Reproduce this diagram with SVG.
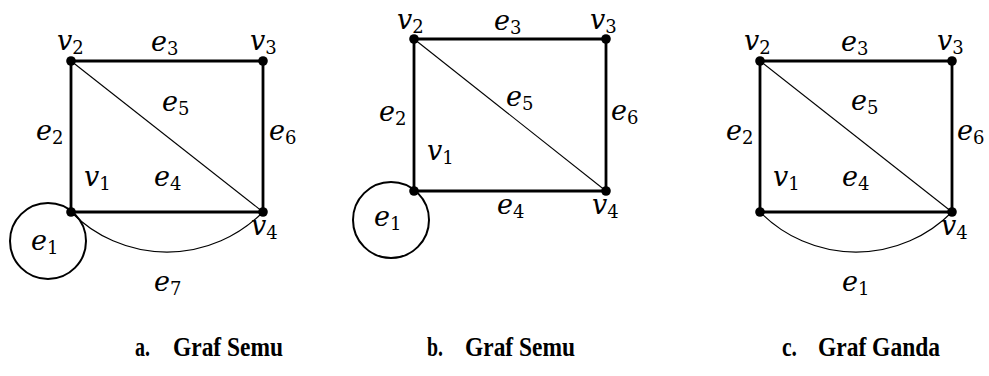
<svg xmlns="http://www.w3.org/2000/svg" width="989" height="376" viewBox="0 0 989 376">
<style>
.bg{fill:#fff}
.thick{stroke:#000;stroke-width:2.8;fill:none;stroke-linecap:round}
.thin{stroke:#000;stroke-width:1.1;fill:none}
.loop{stroke:#000;stroke-width:2;fill:none}
.dot{fill:#000}
.lbl{font-family:"DejaVu Serif",serif;font-style:italic;font-size:27px;fill:#000}
.sub{font-style:normal;font-size:18px}
.cap{font-family:"Liberation Serif","Times New Roman",serif;font-weight:bold;font-size:27px;fill:#000}
</style>
<rect class="bg" width="989" height="376"/>
<g id="connectors">
  <!-- graph a -->
  <path class="thick" d="M71 61 H263 V212 H71 Z"/>
  <line class="thin" x1="71" y1="61" x2="263" y2="212"/>
  <path class="thin" d="M71 212 A135 135 0 0 0 263 212"/>
  <circle class="loop" cx="48" cy="241" r="38"/>
  <!-- graph b -->
  <path class="thick" d="M414 39 H606 V191 H414 Z"/>
  <line class="thin" x1="414" y1="39" x2="606" y2="191"/>
  <circle class="loop" cx="391" cy="220" r="38"/>
  <!-- graph c -->
  <path class="thick" d="M760 61 H952 V212 H760 Z"/>
  <line class="thin" x1="760" y1="61" x2="952" y2="212"/>
  <path class="thin" d="M760 212 A135 135 0 0 0 952 212"/>
</g>
<g id="graph-a">
  <g id="a-v1"><circle class="dot" cx="71" cy="212" r="4.8"/><text class="lbl" x="84" y="186">v<tspan class="sub" dy="4">1</tspan></text></g>
  <g id="a-v2"><circle class="dot" cx="71" cy="61" r="4.8"/><text class="lbl" x="57" y="50">v<tspan class="sub" dy="4">2</tspan></text></g>
  <g id="a-v3"><circle class="dot" cx="263" cy="61" r="4.8"/><text class="lbl" x="250" y="50">v<tspan class="sub" dy="4">3</tspan></text></g>
  <g id="a-v4"><circle class="dot" cx="263" cy="212" r="4.8"/><text class="lbl" x="251" y="235">v<tspan class="sub" dy="4">4</tspan></text></g>
  <text class="lbl" x="31" y="250">e<tspan class="sub" dy="4">1</tspan></text>
  <text class="lbl" x="36" y="140">e<tspan class="sub" dy="4">2</tspan></text>
  <text class="lbl" x="151" y="51">e<tspan class="sub" dy="4">3</tspan></text>
  <text class="lbl" x="154" y="186">e<tspan class="sub" dy="4">4</tspan></text>
  <text class="lbl" x="162" y="111">e<tspan class="sub" dy="4">5</tspan></text>
  <text class="lbl" x="269" y="140">e<tspan class="sub" dy="4">6</tspan></text>
  <text class="lbl" x="154" y="291">e<tspan class="sub" dy="4">7</tspan></text>
</g>
<g id="graph-b">
  <g id="b-v1"><circle class="dot" cx="414" cy="191" r="4.8"/><text class="lbl" x="427" y="160">v<tspan class="sub" dy="4">1</tspan></text></g>
  <g id="b-v2"><circle class="dot" cx="414" cy="39" r="4.8"/><text class="lbl" x="397" y="29">v<tspan class="sub" dy="4">2</tspan></text></g>
  <g id="b-v3"><circle class="dot" cx="606" cy="39" r="4.8"/><text class="lbl" x="590" y="29">v<tspan class="sub" dy="4">3</tspan></text></g>
  <g id="b-v4"><circle class="dot" cx="606" cy="191" r="4.8"/><text class="lbl" x="592" y="214">v<tspan class="sub" dy="4">4</tspan></text></g>
  <text class="lbl" x="374" y="226">e<tspan class="sub" dy="4">1</tspan></text>
  <text class="lbl" x="379" y="121">e<tspan class="sub" dy="4">2</tspan></text>
  <text class="lbl" x="494" y="30">e<tspan class="sub" dy="4">3</tspan></text>
  <text class="lbl" x="497" y="214">e<tspan class="sub" dy="4">4</tspan></text>
  <text class="lbl" x="506" y="106">e<tspan class="sub" dy="4">5</tspan></text>
  <text class="lbl" x="611" y="120">e<tspan class="sub" dy="4">6</tspan></text>
</g>
<g id="graph-c">
  <g id="c-v1"><circle class="dot" cx="760" cy="212" r="4.8"/><text class="lbl" x="773" y="186">v<tspan class="sub" dy="4">1</tspan></text></g>
  <g id="c-v2"><circle class="dot" cx="760" cy="61" r="4.8"/><text class="lbl" x="744" y="50">v<tspan class="sub" dy="4">2</tspan></text></g>
  <g id="c-v3"><circle class="dot" cx="952" cy="61" r="4.8"/><text class="lbl" x="937" y="50">v<tspan class="sub" dy="4">3</tspan></text></g>
  <g id="c-v4"><circle class="dot" cx="952" cy="212" r="4.8"/><text class="lbl" x="941" y="235">v<tspan class="sub" dy="4">4</tspan></text></g>
  <text class="lbl" x="842" y="291">e<tspan class="sub" dy="4">1</tspan></text>
  <text class="lbl" x="726" y="140">e<tspan class="sub" dy="4">2</tspan></text>
  <text class="lbl" x="841" y="51">e<tspan class="sub" dy="4">3</tspan></text>
  <text class="lbl" x="842" y="186">e<tspan class="sub" dy="4">4</tspan></text>
  <text class="lbl" x="851" y="110">e<tspan class="sub" dy="4">5</tspan></text>
  <text class="lbl" x="957" y="140">e<tspan class="sub" dy="4">6</tspan></text>
</g>
<g id="captions">
  <text class="cap" x="135" y="356" textLength="15" lengthAdjust="spacingAndGlyphs">a.</text><text class="cap" x="173" y="356" textLength="110" lengthAdjust="spacingAndGlyphs">Graf Semu</text>
  <text class="cap" x="427" y="356" textLength="16" lengthAdjust="spacingAndGlyphs">b.</text><text class="cap" x="465" y="356" textLength="110" lengthAdjust="spacingAndGlyphs">Graf Semu</text>
  <text class="cap" x="782" y="356" textLength="15" lengthAdjust="spacingAndGlyphs">c.</text><text class="cap" x="818" y="356" textLength="122" lengthAdjust="spacingAndGlyphs">Graf Ganda</text>
</g>
</svg>
